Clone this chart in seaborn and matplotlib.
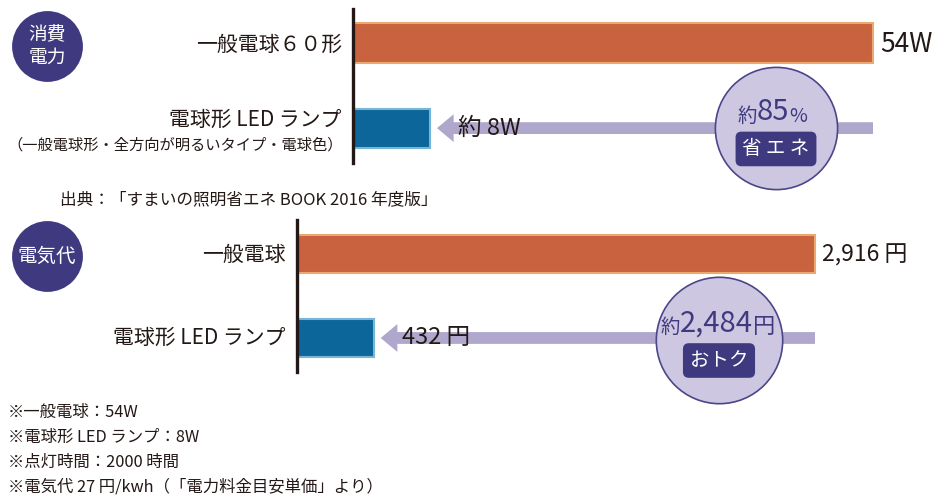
import matplotlib
matplotlib.use('Agg')
import matplotlib.pyplot as plt
import matplotlib.transforms as mtransforms
from matplotlib.patches import FancyArrowPatch
import seaborn as sns

# data
power_labels = ['一般電球６０形', '電球形 LED ランプ']
power_watts = [54, 8]
power_texts = ['54W', '約 8W']
cost_labels = ['一般電球', '電球形 LED ランプ']
cost_yen = [2916, 432]
cost_texts = ['2,916 円', '432 円']
saving_pct = '85'
saving_yen = '2,484'
notes = ['※一般電球：54W',
         '※電球形 LED ランプ：8W',
         '※点灯時間：2000 時間',
         '※電気代 27 円/kwh（「電力料金目安単価」より）']
source = '出典：「すまいの照明省エネ BOOK 2016 年度版」'

bar_colors = ['#c8623f', '#0c6699']
edge_colors = ['#eaa96e', '#79b3d6']
arrow_color = '#afa7cc'
circle_fc = '#cdc7e1'
navy = '#3f3a80'
ink = '#231815'

sns.set_theme(style='white')
plt.rcParams['font.family'] = ['Noto Sans CJK JP', 'DejaVu Sans']

fig = plt.figure(figsize=(9.38, 4.97), dpi=100)
W, H = 938, 497
ax1 = fig.add_axes([353 / W, 1 - 163 / H, (W - 353) / W, 154 / H])
ax2 = fig.add_axes([297 / W, 1 - 372 / H, (W - 297) / W, 152 / H])


def draw_panel(ax, labels, values, texts, xmax, ylim, width, big, unit, cx, cy, ms, tag,
               val_fs, sub=None):
    sns.barplot(x=values, y=labels, hue=labels, palette=bar_colors, orient='h',
                width=width, legend=False, ax=ax, saturation=1)
    for p, ec in zip(ax.patches, edge_colors):
        p.set_edgecolor(ec)
        p.set_linewidth(1.5)
        p.set_zorder(3)
    ax.set_xlim(0, xmax)
    ax.set_ylim(*ylim)
    ax.set_xticks([])
    ax.set_yticks([])
    ax.set_xlabel('')
    ax.set_ylabel('')
    for s in ['top', 'right', 'bottom']:
        ax.spines[s].set_visible(False)
    ax.spines['left'].set_color(ink)
    ax.spines['left'].set_linewidth(2.4)
    ax.spines['left'].set_zorder(6)

    blend = mtransforms.blended_transform_factory(ax.transAxes, ax.transData)
    # category labels
    ax.annotate(labels[0], xy=(0, 0), xycoords=blend, xytext=(-8, -1), textcoords='offset points',
                ha='right', va='center', fontsize=15, color=ink)
    if sub is None:
        ax.annotate(labels[1], xy=(0, 1), xycoords=blend, xytext=(-8, 0), textcoords='offset points',
                    ha='right', va='center', fontsize=15, color=ink)
    else:
        ax.annotate(labels[1], xy=(0, 1), xycoords=blend, xytext=(-8, 6), textcoords='offset points',
                    ha='right', va='center', fontsize=15, color=ink)
        ax.annotate(sub, xy=(0, 1), xycoords=blend, xytext=(-7, -12), textcoords='offset points',
                    ha='right', va='center', fontsize=11, color=ink)

    # value labels
    ax.annotate(texts[0], xy=(values[0], 0), xytext=(5, -1), textcoords='offset points',
                ha='left', va='center', fontsize=val_fs, color=ink)
    # arrow from big bar end back to small bar
    arr = FancyArrowPatch((values[0], 1), (values[1], 1), shrinkA=0, shrinkB=5,
                          arrowstyle='simple,head_length=12,head_width=20,tail_width=8.5',
                          mutation_scale=1, color=arrow_color, lw=0, zorder=2)
    ax.add_patch(arr)
    ax.annotate(texts[1], xy=(values[1], 1), xytext=(20, 0), textcoords='offset points',
                ha='left', va='center', fontsize=17, color=ink, zorder=4)

    # callout circle
    ax.plot([cx], [cy], marker='o', ms=ms, mfc=circle_fc, mec='#4b468a', mew=1.2,
            transform=blend, clip_on=False, zorder=5)
    num = ax.annotate(big, xy=(cx, cy), xycoords=blend, xytext=(-2, 1), textcoords='offset points',
                      ha='center', va='bottom', fontsize=21, color=navy, zorder=7)
    ax.annotate('約', xy=(0, 0), xycoords=num, ha='right', va='bottom', fontsize=14,
                color=navy, zorder=7)
    ax.annotate(unit, xy=(1, 0), xycoords=num, ha='left', va='bottom',
                fontsize=14 if unit == '%' else 16, color=navy, zorder=7)
    ax.annotate(tag, xy=(cx, cy), xycoords=blend, xytext=(0, -15), textcoords='offset points',
                ha='center', va='center', fontsize=14, color='white', zorder=8,
                bbox=dict(boxstyle='round,pad=0.35,rounding_size=0.3', fc=navy, ec='none'))


draw_panel(ax1, power_labels, power_watts, power_texts, 54 * (W - 353) / (873 - 353),
           (1.41, -0.40), 0.46, saving_pct, '%', (776 - 353) / (W - 353), 1.0, 88, '省 エ ネ',
           19, sub='（一般電球形・全方向が明るいタイプ・電球色）')
draw_panel(ax2, cost_labels, cost_yen, cost_texts, 2916 * (W - 297) / (815 - 297),
           (1.405, -0.405), 0.45, saving_yen, '円', (719 - 297) / (W - 297), 1.02, 91, 'おトク',
           16.5)

# section badges
for (bx, by), txt, fs in [((47, 46), '消費\n電力', 13.5), ((47, 256), '電気代', 14)]:
    fig.lines.append(plt.Line2D([bx / W], [1 - by / H], marker='o', ms=51, mfc=navy, mec='none',
                                transform=fig.transFigure))
    fig.text(bx / W, 1 - by / H, txt, ha='center', va='center', fontsize=fs, color='white',
             linespacing=1.1)

fig.text(60 / W, 1 - 200 / H, source, ha='left', va='center', fontsize=12, color=ink)
for i, n in enumerate(notes):
    fig.text(8 / W, 1 - (412 + 25 * i) / H, n, ha='left', va='center', fontsize=11.8, color=ink)

fig.savefig('out.png', dpi=100, facecolor='white')
